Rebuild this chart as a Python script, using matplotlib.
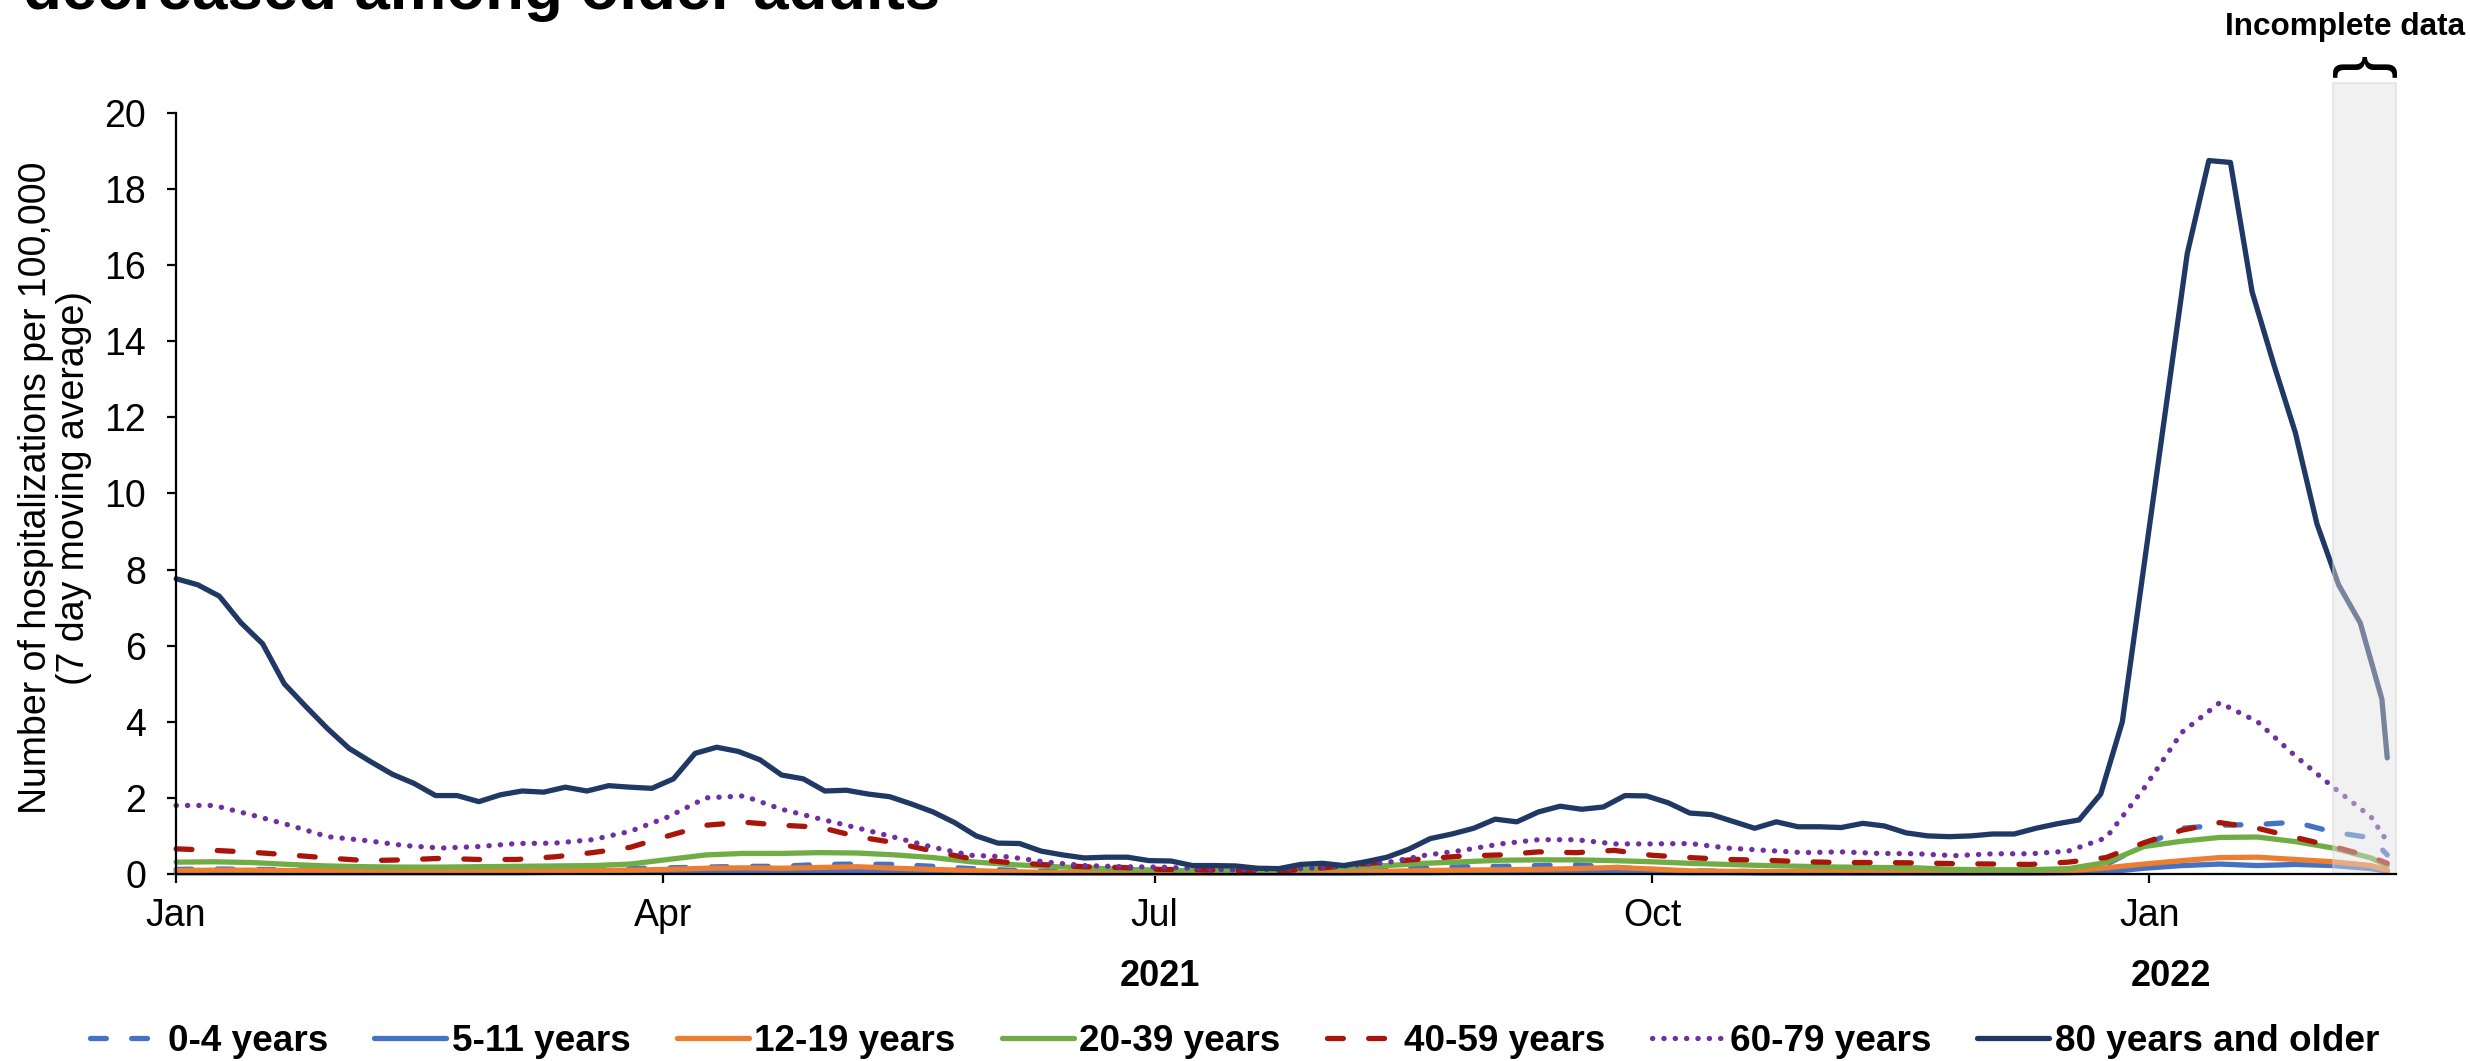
import matplotlib
matplotlib.use('Agg')
import matplotlib.pyplot as plt
import matplotlib.dates as mdates
import pandas as pd

plt.rcParams['font.family'] = ['Liberation Sans', 'DejaVu Sans']

# weekly points (Jan 1 2021 ... Feb 11 2022) plus last day Feb 14 2022
start = pd.Timestamp('2021-01-01')
last_day = pd.Timestamp('2022-02-14')
week_dates = list(pd.date_range(start, periods=59, freq='7D')) + [last_day]
# 80+ read every 4 days (more jagged line)
dates_80 = list(pd.date_range(start, periods=103, freq='4D')) + [last_day]

age_0_4 = [0.12, 0.13, 0.12, 0.11, 0.10, 0.09, 0.09, 0.09, 0.10, 0.10,
           0.11, 0.12, 0.14, 0.16, 0.18, 0.20, 0.20, 0.25, 0.26, 0.25,
           0.20, 0.14, 0.10, 0.07, 0.05, 0.04, 0.04, 0.04, 0.05, 0.06,
           0.08, 0.10, 0.13, 0.16, 0.19, 0.20, 0.22, 0.24, 0.18, 0.10,
           0.08, 0.07, 0.06, 0.06, 0.06, 0.06, 0.06, 0.06, 0.06, 0.07,
           0.10, 0.25, 0.75, 1.20, 1.28, 1.30, 1.36, 1.10, 0.95, 0.50]
age_5_11 = [0.03, 0.03, 0.03, 0.03, 0.03, 0.03, 0.03, 0.03, 0.03, 0.03,
            0.04, 0.04, 0.04, 0.05, 0.06, 0.06, 0.06, 0.07, 0.07, 0.06,
            0.05, 0.04, 0.03, 0.02, 0.02, 0.02, 0.02, 0.02, 0.02, 0.02,
            0.02, 0.02, 0.03, 0.03, 0.04, 0.04, 0.04, 0.05, 0.05, 0.04,
            0.03, 0.03, 0.02, 0.02, 0.02, 0.02, 0.02, 0.02, 0.02, 0.02,
            0.03, 0.05, 0.15, 0.22, 0.26, 0.22, 0.25, 0.22, 0.14, 0.07]
age_12_19 = [0.09, 0.10, 0.10, 0.09, 0.09, 0.08, 0.08, 0.08, 0.08, 0.08,
             0.09, 0.09, 0.10, 0.12, 0.15, 0.16, 0.15, 0.17, 0.19, 0.15,
             0.12, 0.09, 0.06, 0.04, 0.03, 0.02, 0.02, 0.02, 0.03, 0.04,
             0.05, 0.06, 0.07, 0.09, 0.10, 0.11, 0.12, 0.14, 0.17, 0.13,
             0.08, 0.07, 0.06, 0.06, 0.06, 0.06, 0.05, 0.04, 0.04, 0.05,
             0.08, 0.16, 0.26, 0.35, 0.43, 0.44, 0.38, 0.32, 0.22, 0.10]
age_20_39 = [0.31, 0.32, 0.30, 0.25, 0.21, 0.19, 0.18, 0.18, 0.19, 0.20,
             0.21, 0.22, 0.26, 0.38, 0.50, 0.54, 0.54, 0.56, 0.55, 0.50,
             0.43, 0.32, 0.25, 0.20, 0.16, 0.12, 0.10, 0.08, 0.09, 0.10,
             0.13, 0.18, 0.22, 0.28, 0.32, 0.36, 0.37, 0.37, 0.35, 0.32,
             0.28, 0.25, 0.22, 0.20, 0.18, 0.17, 0.16, 0.12, 0.11, 0.11,
             0.14, 0.30, 0.72, 0.86, 0.96, 0.97, 0.85, 0.68, 0.42, 0.22]
age_40_59 = [0.66, 0.62, 0.57, 0.50, 0.42, 0.35, 0.37, 0.41, 0.38, 0.38,
             0.45, 0.56, 0.70, 1.00, 1.28, 1.36, 1.28, 1.23, 0.98, 0.82,
             0.60, 0.40, 0.30, 0.24, 0.19, 0.17, 0.12, 0.11, 0.09, 0.07,
             0.13, 0.23, 0.32, 0.40, 0.47, 0.50, 0.58, 0.56, 0.62, 0.49,
             0.43, 0.38, 0.36, 0.32, 0.30, 0.30, 0.29, 0.27, 0.26, 0.25,
             0.31, 0.43, 0.82, 1.15, 1.35, 1.20, 0.96, 0.72, 0.45, 0.28]
age_60_79 = [1.80, 1.80, 1.55, 1.28, 0.98, 0.88, 0.75, 0.68, 0.72, 0.80,
             0.81, 0.90, 1.12, 1.50, 2.00, 2.05, 1.70, 1.45, 1.21, 0.96,
             0.70, 0.49, 0.45, 0.31, 0.22, 0.19, 0.18, 0.14, 0.10, 0.12,
             0.15, 0.22, 0.30, 0.49, 0.62, 0.79, 0.90, 0.90, 0.79, 0.79,
             0.80, 0.68, 0.62, 0.56, 0.58, 0.54, 0.53, 0.48, 0.53, 0.53,
             0.60, 0.95, 2.25, 3.72, 4.50, 4.00, 3.10, 2.28, 1.50, 0.85]
age_80_plus = [7.76, 7.60, 7.30, 6.60, 6.05, 5.00, 4.40, 3.82, 3.30, 2.95,
               2.62, 2.38, 2.06, 2.06, 1.90, 2.08, 2.18, 2.15, 2.28, 2.18,
               2.32, 2.28, 2.25, 2.50, 3.17, 3.33, 3.22, 3.00, 2.60, 2.50,
               2.18, 2.20, 2.10, 2.03, 1.84, 1.63, 1.35, 1.00, 0.81, 0.80,
               0.60, 0.50, 0.42, 0.44, 0.44, 0.35, 0.34, 0.22, 0.22, 0.21,
               0.15, 0.14, 0.25, 0.28, 0.22, 0.32, 0.44, 0.65, 0.93, 1.05,
               1.20, 1.44, 1.37, 1.63, 1.78, 1.70, 1.76, 2.06, 2.05, 1.87,
               1.60, 1.56, 1.38, 1.20, 1.37, 1.24, 1.24, 1.22, 1.33, 1.26,
               1.08, 1.00, 0.98, 1.00, 1.05, 1.05, 1.20, 1.32, 1.42, 2.10,
               4.00, 8.10, 12.20, 16.30, 18.75, 18.70, 15.30, 13.40, 11.60, 9.20,
               7.60, 6.60, 4.60, 3.05]

labels = ['0-4 years', '5-11 years', '12-19 years', '20-39 years',
          '40-59 years', '60-79 years', '80 years and older']
colors = ['#4472C4', '#4472C4', '#ED7D31', '#70AD47', '#A9150B', '#7030A0', '#203864']

dash = (0, (3.0, 4.8))
dots = (0, (0.05, 2.1))
styles = [dash, '-', '-', '-', dash, dots, '-']
series = [(week_dates, age_0_4), (week_dates, age_5_11), (week_dates, age_12_19),
          (week_dates, age_20_39), (week_dates, age_40_59), (week_dates, age_60_79),
          (dates_80, age_80_plus)]

fig = plt.figure(figsize=(24.7, 10.61), dpi=100)
ax = fig.add_axes([0.0713, 0.1763, 0.8987, 0.7172])

handles = []
for (d, v), lab, c, ls in zip(series, labels, colors, styles):
    h, = ax.plot(d, v, color=c, linestyle=ls, lw=3.8, label=lab,
                 dash_capstyle='round', solid_capstyle='round',
                 solid_joinstyle='round', clip_on=False)
    handles.append(h)

x_end = start + pd.Timedelta(days=410.6)
ax.set_xlim(start, x_end)
ax.set_ylim(0, 20)
ax.set_yticks(range(0, 21, 2))

# incomplete data shading, drawn over the lines
shade = ax.axvspan(pd.Timestamp('2022-02-04'), x_end, ymin=0, ymax=20.8 / 20,
                   facecolor=(0.886, 0.886, 0.886, 0.45),
                   edgecolor=(0.82, 0.82, 0.82, 0.5), lw=1.2, zorder=2.2)
shade.set_clip_on(False)

brace_x = pd.Timestamp('2022-02-04') + pd.Timedelta(days=5.8)
ax.text(brace_x, 21.26, '}', rotation=90, ha='center', va='center',
        fontsize=50, clip_on=False)
fig.text(0.998, 0.967, 'Incomplete data', ha='right', va='baseline',
         fontsize=22.7, fontweight='bold')

ax.xaxis.set_major_locator(mdates.MonthLocator(bymonth=[1, 4, 7, 10]))
ax.xaxis.set_major_formatter(mdates.DateFormatter('%b'))

for s in ['top', 'right']:
    ax.spines[s].set_visible(False)
for s in ['left', 'bottom']:
    ax.spines[s].set_linewidth(1.6)
ax.tick_params(axis='both', labelsize=27, length=6.5, width=1.6, direction='out')
ax.tick_params(axis='y', pad=15)
ax.tick_params(axis='x', pad=11)

trans = ax.get_xaxis_transform()
ax.text(pd.Timestamp('2021-07-02'), -0.135, '2021', transform=trans, ha='center',
        va='center', fontsize=26, fontweight='bold')
ax.text(pd.Timestamp('2022-01-05'), -0.135, '2022', transform=trans, ha='center',
        va='center', fontsize=26, fontweight='bold')

fig.text(0.0223, 0.54, 'Number of hospitalizations per 100,000\n(7 day moving average)',
         rotation=90, ha='center', va='center', fontsize=27, linespacing=1.1,
         multialignment='center')

# title line, its upper part falls outside the picture
fig.text(0.0093, 0.9915, 'decreased among older adults', ha='left', va='baseline',
         fontsize=45.7, fontweight='bold')

fig.legend(handles, labels, loc='center', bbox_to_anchor=(0.4998, 0.018), ncol=7,
           frameon=False, prop={'size': 26.6, 'weight': 'bold'}, handlelength=1.95,
           handletextpad=0.16, columnspacing=1.24, borderpad=0, borderaxespad=0)

fig.savefig('out.png', dpi=100)
